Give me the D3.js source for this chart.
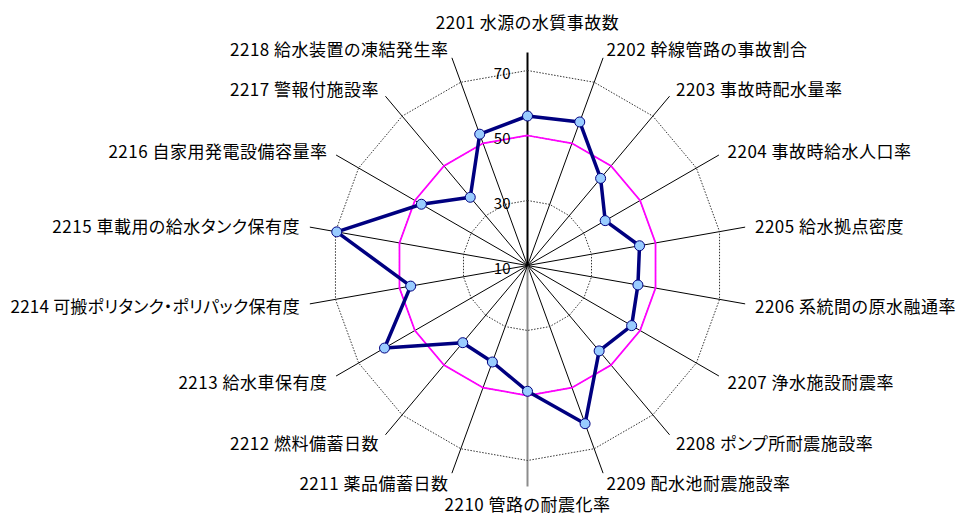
<!DOCTYPE html>
<html>
<head>
<meta charset="utf-8">
<script src="https://cdn.jsdelivr.net/npm/d3@7"></script>
<style>
  html, body { margin: 0; padding: 0; background: #fff; }
  svg { display: block; }
  .lbl { font-family: "Noto Sans CJK JP", "Noto Sans", sans-serif; font-feature-settings: "palt"; fill: #000; }
</style>
</head>
<body>
<svg id="chart" width="958" height="516"></svg>
<script>
// Indicator codes and names around the radar (clockwise from top)
const codes = ["2201","2202","2203","2204","2205","2206","2207","2208","2209",
               "2210","2211","2212","2213","2214","2215","2216","2217","2218"];
const names = ["水源の水質事故数","幹線管路の事故割合","事故時配水量率","事故時給水人口率",
               "給水拠点密度","系統間の原水融通率","浄水施設耐震率","ポンプ所耐震施設率",
               "配水池耐震施設率","管路の耐震化率","薬品備蓄日数","燃料備蓄日数",
               "給水車保有度","可搬ポリタンク・ポリパック保有度","車載用の給水タンク保有度",
               "自家用発電設備容量率","警報付施設率","給水装置の凍結発生率"];
// Score per indicator
const scores = [56, 57, 45, 37.6, 45, 44.5, 47, 44.3, 61.8,
                48.7, 41.6, 41, 60.8, 46.5, 69.6, 47.7, 37.4, 53];
// Reference level (average line)
const reference = [50, 50, 50, 50, 50, 50, 50, 50, 50,
                   50, 50, 50, 50, 50, 50, 50, 50, 50];
// Value axis ticks
const ticks = [10, 30, 50, 70];

const svg = d3.select("#chart");
const cx = 527.5, cy = 265.5;
const n = codes.length;

const r = d3.scaleLinear().domain([10, 70]).range([0, 195]);
const angle = d3.scaleLinear().domain([0, n]).range([0, 2 * Math.PI]);

const pt = (i, rad) => [cx + rad * Math.sin(angle(i)), cy - rad * Math.cos(angle(i))];

const g = svg.append("g");

// Spokes
const spokeLen = 221;
d3.range(n).forEach(i => {
  if (i === 0) return;
  const [x, y] = pt(i, spokeLen);
  g.append("line")
    .attr("x1", cx).attr("y1", cy).attr("x2", x).attr("y2", y)
    .attr("stroke", i === 9 ? "#8c8c8c" : "#000")
    .attr("stroke-width", i === 9 ? 2 : 1);
});
// Value axis (top spoke)
g.append("line")
  .attr("x1", cx).attr("y1", cy).attr("x2", cx).attr("y2", cy - 213)
  .attr("stroke", "#000").attr("stroke-width", 2);

// Grid rings (dotted polygons)
const ringLine = d3.line().curve(d3.curveLinearClosed);
ticks.filter(t => t > 10).forEach(t => {
  g.append("path")
    .attr("d", ringLine(d3.range(n).map(i => pt(i, r(t)))))
    .attr("fill", "none")
    .attr("stroke", "#333")
    .attr("stroke-width", 1)
    .attr("stroke-dasharray", "1.5,1.5");
});

// Reference polygon
g.append("path")
  .attr("d", ringLine(reference.map((v, i) => pt(i, r(v)))))
  .attr("fill", "none")
  .attr("stroke", "#ff00ff")
  .attr("stroke-width", 1.75);

// Score polygon
g.append("path")
  .attr("d", ringLine(scores.map((v, i) => pt(i, r(v)))))
  .attr("fill", "none")
  .attr("stroke", "#000080")
  .attr("stroke-width", 3.5)
  .attr("stroke-linejoin", "round");

// Markers
g.selectAll("circle.mk").data(scores).join("circle")
  .attr("class", "mk")
  .attr("cx", (v, i) => pt(i, r(v))[0])
  .attr("cy", (v, i) => pt(i, r(v))[1])
  .attr("r", 5)
  .attr("fill", "#99ccff")
  .attr("stroke", "#000080")
  .attr("stroke-width", 1);

// Tick labels along the value axis
g.selectAll("text.tick").data(ticks).join("text")
  .attr("class", "lbl tick")
  .attr("x", cx - 17)
  .attr("y", t => cy - r(t) + 1.5)
  .attr("text-anchor", "end")
  .attr("dominant-baseline", "central")
  .style("font-size", "15px")
  .text(t => t);

// Category labels
const labelR = 231;
codes.forEach((c, i) => {
  const a = angle(i);
  const s = Math.sin(a), co = Math.cos(a);
  let [x, y] = pt(i, labelR);
  let anchor = "middle";
  if (s > 0.05) anchor = "start";
  else if (s < -0.05) anchor = "end";
  if (Math.abs(s) < 0.05) y += co > 0 ? -13 : 7;
  g.append("text")
    .attr("class", "lbl")
    .attr("x", x).attr("y", y)
    .attr("text-anchor", anchor)
    .attr("dominant-baseline", "central")
    .style("font-size", "17px")
    .style("letter-spacing", i === 13 ? "0.2px" : "0.5px")
    .text(c + " " + names[i]);
});
</script>
</body>
</html>
